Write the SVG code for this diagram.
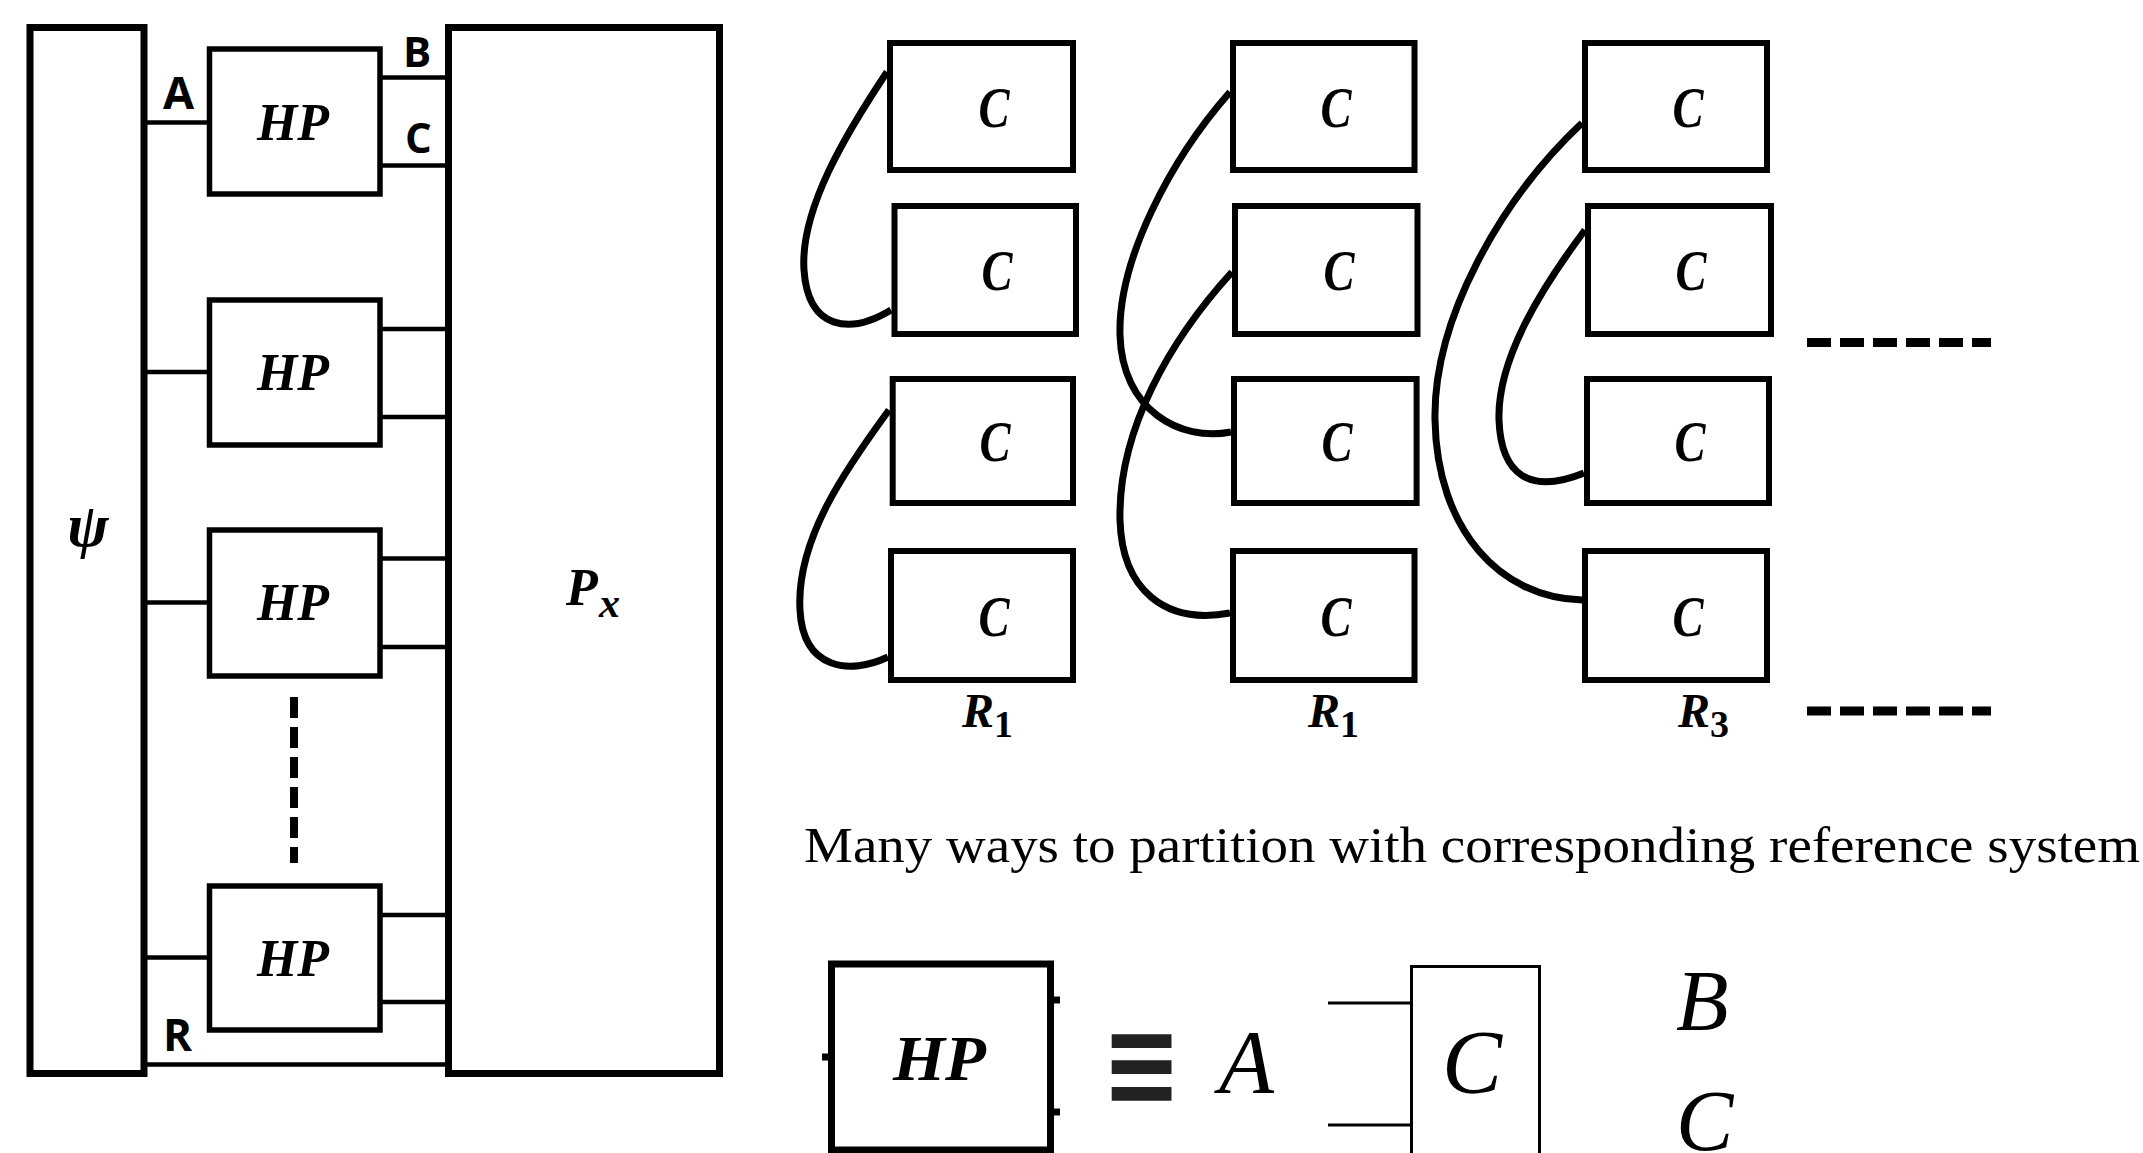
<svg xmlns="http://www.w3.org/2000/svg" width="2143" height="1153" viewBox="0 0 2143 1153">
<style>
.box{fill:#fff;stroke:#000;stroke-width:7}
.hp{fill:#fff;stroke:#000;stroke-width:5.5}
.cb{fill:#fff;stroke:#000;stroke-width:6}
.wire{stroke:#000;stroke-width:4.5;fill:none}
.thin{stroke:#000;stroke-width:3;fill:none}
.curve{stroke:#000;stroke-width:7;fill:none}
.dash{stroke:#000;fill:none}
.lbl{font-family:'Open Sans','Liberation Sans',sans-serif;font-weight:700;fill:#000}
.math{font-family:'Liberation Serif',serif;font-weight:700;font-style:italic;fill:#000}
.tex{font-family:'Liberation Serif',serif;fill:#000}
.texi{font-family:'Liberation Serif',serif;font-style:italic;fill:#000}
.hpt{font-size:53px;text-anchor:middle}
.ct{font-size:57px;text-anchor:middle}
</style>
<rect x="0" y="0" width="2143" height="1153" fill="#fff"/>

<g id="connectors">
  <line class="wire" x1="147" y1="122.5" x2="208" y2="122.5"/>
  <line class="wire" x1="147" y1="372" x2="208" y2="372"/>
  <line class="wire" x1="147" y1="602.5" x2="208" y2="602.5"/>
  <line class="wire" x1="147" y1="957.5" x2="208" y2="957.5"/>
  <line class="wire" x1="381" y1="77.5" x2="446" y2="77.5"/>
  <line class="wire" x1="381" y1="165.5" x2="446" y2="165.5"/>
  <line class="wire" x1="381" y1="329" x2="446" y2="329"/>
  <line class="wire" x1="381" y1="417" x2="446" y2="417"/>
  <line class="wire" x1="381" y1="558.5" x2="446" y2="558.5"/>
  <line class="wire" x1="381" y1="647" x2="446" y2="647"/>
  <line class="wire" x1="381" y1="915" x2="446" y2="915"/>
  <line class="wire" x1="381" y1="1002" x2="446" y2="1002"/>
  <line class="wire" x1="147" y1="1064.5" x2="446" y2="1064.5"/>
  <line class="dash" x1="294" y1="697" x2="294" y2="863" stroke-width="8" stroke-dasharray="21 9"/>
  <path class="curve" d="M 887 72 C 845 135, 800 210, 804 270 C 808 330, 850 335, 891 310"/>
  <path class="curve" d="M 889 410 C 845 470, 796 540, 800 610 C 803 670, 850 675, 888 657"/>
  <path class="curve" d="M 1230 92 C 1170 160, 1118 260, 1120 335 C 1122 410, 1180 442, 1231 432"/>
  <path class="curve" d="M 1232 272 C 1170 340, 1118 430, 1120 520 C 1122 590, 1165 625, 1230 613"/>
  <path class="curve" d="M 1582 123 C 1500 200, 1433 320, 1435 420 C 1437 530, 1500 598, 1582 600"/>
  <path class="curve" d="M 1585 230 C 1540 290, 1497 360, 1499 420 C 1501 475, 1530 495, 1584 473"/>
  <line class="dash" x1="1807" y1="342.5" x2="1991" y2="342.5" stroke-width="9" stroke-dasharray="24 9"/>
  <line class="dash" x1="1807" y1="711" x2="1991" y2="711" stroke-width="9" stroke-dasharray="24 9"/>
  <line class="thin" x1="1328" y1="1003" x2="1410" y2="1003"/>
  <line class="thin" x1="1328" y1="1125" x2="1410" y2="1125"/>
</g>

<g id="labels-wires">
  <text class="lbl" x="163" y="109" font-size="45">A</text>
  <text class="lbl" x="403" y="67" font-size="42">B</text>
  <text class="lbl" x="405" y="153" font-size="42">C</text>
  <text class="lbl" x="163" y="1051" font-size="44">R</text>
</g>

<g id="psi">
  <rect class="box" x="30" y="27.5" width="114" height="1046"/>
  <text class="math" x="88" y="546" font-size="62" text-anchor="middle">ψ</text>
</g>
<g id="Px">
  <rect class="box" x="448.5" y="27.5" width="271" height="1046"/>
  <text class="math" x="566" y="605" font-size="52">P</text>
  <text class="math" x="599" y="617" font-size="42">x</text>
</g>

<g id="hp1"><rect class="hp" x="209.5" y="49" width="170.5" height="145"/><text class="math hpt" x="293" y="140" textLength="72" lengthAdjust="spacingAndGlyphs">HP</text></g>
<g id="hp2"><rect class="hp" x="209.5" y="300" width="170.5" height="145"/><text class="math hpt" x="293" y="390" textLength="72" lengthAdjust="spacingAndGlyphs">HP</text></g>
<g id="hp3"><rect class="hp" x="209.5" y="530" width="170.5" height="146"/><text class="math hpt" x="293" y="620" textLength="72" lengthAdjust="spacingAndGlyphs">HP</text></g>
<g id="hp4"><rect class="hp" x="209.5" y="886" width="170.5" height="144"/><text class="math hpt" x="293" y="976" textLength="72" lengthAdjust="spacingAndGlyphs">HP</text></g>

<g id="c11"><rect class="cb" x="890" y="43" width="183" height="127"/><text class="math ct" x="994" y="126.5" textLength="31" lengthAdjust="spacingAndGlyphs">C</text></g>
<g id="c12"><rect class="cb" x="894.5" y="206" width="181.5" height="128"/><text class="math ct" x="997" y="290" textLength="31" lengthAdjust="spacingAndGlyphs">C</text></g>
<g id="c13"><rect class="cb" x="892.7" y="379" width="180.3" height="124"/><text class="math ct" x="995" y="461" textLength="31" lengthAdjust="spacingAndGlyphs">C</text></g>
<g id="c14"><rect class="cb" x="891" y="551" width="182" height="129"/><text class="math ct" x="994" y="635.5" textLength="31" lengthAdjust="spacingAndGlyphs">C</text></g>

<g id="c21"><rect class="cb" x="1233" y="43" width="181.5" height="127"/><text class="math ct" x="1336" y="126.5" textLength="31" lengthAdjust="spacingAndGlyphs">C</text></g>
<g id="c22"><rect class="cb" x="1235" y="206" width="182.5" height="128"/><text class="math ct" x="1339" y="290" textLength="31" lengthAdjust="spacingAndGlyphs">C</text></g>
<g id="c23"><rect class="cb" x="1234" y="379" width="182.6" height="124"/><text class="math ct" x="1337" y="461" textLength="31" lengthAdjust="spacingAndGlyphs">C</text></g>
<g id="c24"><rect class="cb" x="1233" y="551" width="181.5" height="129"/><text class="math ct" x="1336" y="635.5" textLength="31" lengthAdjust="spacingAndGlyphs">C</text></g>

<g id="c31"><rect class="cb" x="1585" y="43" width="182" height="127"/><text class="math ct" x="1688" y="126.5" textLength="31" lengthAdjust="spacingAndGlyphs">C</text></g>
<g id="c32"><rect class="cb" x="1588" y="206" width="183" height="128"/><text class="math ct" x="1691" y="290" textLength="31" lengthAdjust="spacingAndGlyphs">C</text></g>
<g id="c33"><rect class="cb" x="1587" y="379" width="182" height="124"/><text class="math ct" x="1690" y="461" textLength="31" lengthAdjust="spacingAndGlyphs">C</text></g>
<g id="c34"><rect class="cb" x="1585" y="551" width="182" height="129"/><text class="math ct" x="1688" y="635.5" textLength="31" lengthAdjust="spacingAndGlyphs">C</text></g>

<g id="r-labels">
  <text class="math" x="962" y="727" font-size="48">R<tspan font-style="normal" font-size="38" dy="10">1</tspan></text>
  <text class="math" x="1308" y="727" font-size="48">R<tspan font-style="normal" font-size="38" dy="10">1</tspan></text>
  <text class="math" x="1678" y="727" font-size="48">R<tspan font-style="normal" font-size="38" dy="10">3</tspan></text>
</g>

<g id="caption">
  <text class="tex" x="804" y="862" font-size="51" textLength="1336" lengthAdjust="spacingAndGlyphs">Many ways to partition with corresponding reference system</text>
</g>

<g id="hp-legend">
  <rect class="box" x="831.5" y="964" width="219" height="186"/>
  <line x1="1050" y1="1000" x2="1060" y2="1000" stroke="#000" stroke-width="7"/>
  <line x1="1050" y1="1112" x2="1060" y2="1112" stroke="#000" stroke-width="7"/>
  <line x1="822" y1="1057" x2="832" y2="1057" stroke="#000" stroke-width="7"/>
  <text class="math" x="939.5" y="1080" font-size="64" text-anchor="middle" textLength="93" lengthAdjust="spacingAndGlyphs">HP</text>
</g>
<g id="equiv">
  <text x="1141.5" y="1105" font-family="'DejaVu Sans',sans-serif" font-weight="700" font-size="120" fill="#222" text-anchor="middle" textLength="80" lengthAdjust="spacingAndGlyphs">≡</text>
</g>
<g id="channel">
  <text class="texi" x="1219" y="1093" font-size="90">A</text>
  <rect class="thin" x="1411.5" y="966.5" width="128" height="220" fill="#fff"/>
  <text class="texi" x="1472" y="1093" font-size="90" text-anchor="middle">C</text>
  <text class="texi" x="1676" y="1030" font-size="86">B</text>
  <text class="texi" x="1676" y="1150" font-size="86">C</text>
</g>
</svg>
